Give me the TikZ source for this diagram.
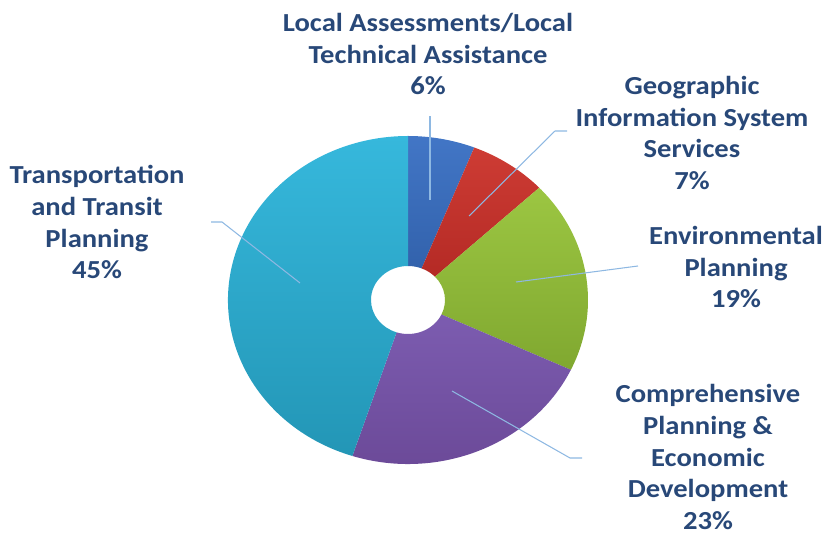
\documentclass[tikz,border=0pt]{standalone}
\usepackage{fontspec}
\setmainfont{Carlito}
\usetikzlibrary{calc}
\definecolor{labelblue}{HTML}{284878}
\definecolor{leaderblue}{HTML}{8EB8E2}
\def\donutslice[#1](#2:#3){\shade[#1] ($(ctr)+(#2:180 and 164)$) arc[start angle=#2, end angle=#3, x radius=180, y radius=164] -- ($(ctr)+(#3:37 and 34)$) arc[start angle=#3, end angle=#2, x radius=37, y radius=34] -- cycle;}

\begin{document}
\begin{tikzpicture}[x=0.02cm, y=0.02cm,
    lbl/.style={align=center, text=labelblue, font=\fontsize{14.8}{18.2}\selectfont\bfseries, inner sep=0pt, xscale=1.1, transform shape},
    leader/.style={draw=leaderblue, line width=0.6pt}]
			%%%%% START %%%%%
			\useasboundingbox (0, 0) rectangle (825, 534);
			\coordinate (ctr) at (408, 234);
			
			% slices, clockwise from the top
			\donutslice[top color={rgb,255:red,66;green,118;blue,198}, bottom color={rgb,255:red,50;green,98;blue,172}](90:68.4)
			\donutslice[top color={rgb,255:red,206;green,60;blue,52}, bottom color={rgb,255:red,180;green,42;blue,37}](68.4:43.2)
			\donutslice[top color={rgb,255:red,156;green,198;blue,66}, bottom color={rgb,255:red,128;green,168;blue,48}](43.2:-25.2)
			\donutslice[top color={rgb,255:red,124;green,92;blue,176}, bottom color={rgb,255:red,106;green,72;blue,150}](-25.2:-108)
			\donutslice[top color={rgb,255:red,54;green,184;blue,220}, bottom color={rgb,255:red,35;green,150;blue,182}](-108:-270)
			
			% labels
			\node[lbl] (local) at (428, 480) {Local Assessments/Local\\Technical Assistance\\6\%};
			\node[lbl] (gis) at (692, 401) {Geographic\\Information System\\Services\\7\%};
			\node[lbl] (env) at (736, 267) {Environmental\\Planning\\19\%};
			\node[lbl] (comp) at (708, 77) {Comprehensive\\Planning \&\\Economic\\Development\\23\%};
			\node[lbl] (trans) at (97, 312) {Transportation\\and Transit\\Planning\\45\%};
			
			% leader lines
			\coordinate (localin) at (430, 334);
			\coordinate (localout) at (430, 418);
			\coordinate (gisin) at (469, 318);
			\coordinate (gisbend) at (555, 403);
			\coordinate (gisout) at (567, 403);
			\coordinate (envin) at (516, 252);
			\coordinate (envout) at (638, 268);
			\coordinate (compin) at (452, 143);
			\coordinate (compbend) at (570, 76);
			\coordinate (compout) at (582, 76);
			\coordinate (transin) at (300, 251);
			\coordinate (transbend) at (222, 312);
			\coordinate (transout) at (211, 312);
			
			\draw[leader] (localin) -- (localout);
			\draw[leader] (gisin) -- (gisbend) -- (gisout);
			\draw[leader] (envin) -- (envout);
			\draw[leader] (compin) -- (compbend) -- (compout);
			\draw[leader] (transin) -- (transbend) -- (transout);
			%%%%% END %%%%%
\end{tikzpicture}
\end{document}
